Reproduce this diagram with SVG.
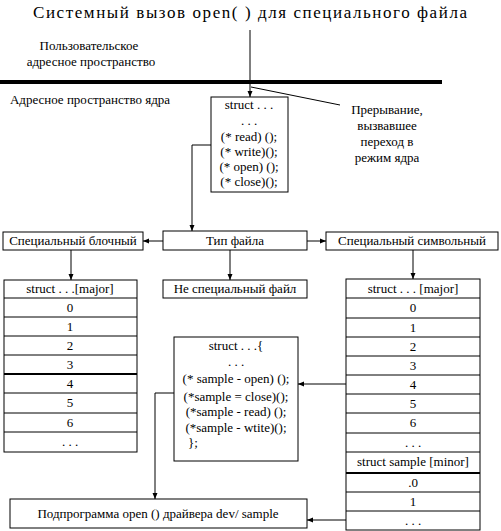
<svg xmlns="http://www.w3.org/2000/svg" width="501" height="531" viewBox="0 0 501 531">
<defs>
<marker id="ah" markerWidth="8" markerHeight="8" refX="7" refY="4" orient="auto" markerUnits="userSpaceOnUse">
<path d="M1,1.5 L7,4 L1,6.5 z" fill="#000"/>
</marker>
<style>
text{font-family:"Liberation Serif","DejaVu Serif","Times New Roman",serif;font-size:13px;fill:#000;text-anchor:middle}
.t{font-size:17px}
.box{fill:#fff;stroke:#000;stroke-width:1}
.ln{fill:none;stroke:#000;stroke-width:1}
.ar{fill:none;stroke:#000;stroke-width:1;marker-end:url(#ah)}
.thick{stroke:#000;stroke-width:2}
</style>
</defs>
<rect width="501" height="531" fill="#fff"/>

<g id="title"><text class="t" x="250" y="18" textLength="434" lengthAdjust="spacing">Системный вызов open( ) для специального файла</text></g>
<g id="user-space"><text x="89" y="50">Пользовательское</text><text x="91" y="66">адресное пространство</text></g>
<rect id="boundary" x="0" y="80" width="442" height="4" fill="#000"/>
<g id="kernel-space"><text x="90" y="104">Адресное пространство ядра</text></g>
<g id="interrupt"><text x="387" y="114">Прерывание,</text><text x="387" y="130">вызвавшее</text><text x="387" y="146">переход в</text><text x="387" y="162">режим ядра</text></g>

<g id="connectors">
<line class="ar" x1="250" y1="30" x2="250" y2="97"/>
<line class="ln" x1="251" y1="87" x2="340" y2="105"/>
<polyline class="ar" points="211,145 192,145 192,231"/>
<line class="ar" x1="163" y1="241" x2="143" y2="241"/>
<line class="ar" x1="307" y1="241" x2="326" y2="241"/>
<line class="ar" x1="71" y1="250" x2="71" y2="280"/>
<line class="ar" x1="230" y1="250" x2="230" y2="280"/>
<line class="ar" x1="413" y1="250" x2="413" y2="279"/>
<line class="ar" x1="346" y1="384" x2="298" y2="384"/>
<polyline class="ar" points="174,393 155,393 155,499"/>
<line class="ar" x1="346" y1="520" x2="307" y2="520"/>
</g>

<g id="struct-ops">
<rect class="box" x="211" y="97" width="77" height="95"/>
<text x="249" y="109">struct . . .</text>
<text x="249" y="125">. . .</text>
<text x="249" y="141">(* read) ();</text>
<text x="249" y="156">(* write)();</text>
<text x="249" y="171">(* open) ();</text>
<text x="249" y="186">(* close)();</text>
</g>

<g id="block-special"><rect class="box" x="3" y="232" width="140" height="18"/><text x="73" y="245">Специальный блочный</text></g>
<g id="file-type"><rect class="box" x="163" y="231" width="144" height="19"/><text x="235" y="245">Тип файла</text></g>
<g id="char-special"><rect class="box" x="326" y="232" width="172" height="18"/><text x="412" y="245">Специальный символьный</text></g>
<g id="not-special"><rect class="box" x="163" y="280" width="144" height="18"/><text x="235" y="293">Не специальный файл</text></g>

<g id="block-table">
<rect class="box" x="4" y="280" width="133" height="172"/>
<path class="ln" d="M4,298H137M4,317H137M4,336H137M4,355H137M4,393H137M4,413H137M4,432H137"/>
<line class="thick" x1="4" y1="374" x2="137" y2="374"/>
<text x="70" y="293">struct . . .[major]</text>
<text x="70" y="312">0</text>
<text x="70" y="331">1</text>
<text x="70" y="350">2</text>
<text x="70" y="369">3</text>
<text x="70" y="388">4</text>
<text x="70" y="407">5</text>
<text x="70" y="427">6</text>
<text x="70" y="446">. . .</text>
</g>

<g id="char-table">
<rect class="box" x="346" y="279" width="134" height="251"/>
<path class="ln" d="M346,298H480M346,318H480M346,337H480M346,356H480M346,375H480M346,394H480M346,413H480M346,433H480M346,452H480M346,492H480M346,511H480"/>
<line class="thick" x1="346" y1="473" x2="480" y2="473"/>
<text x="413" y="293">struct . . . [major]</text>
<text x="413" y="312">0</text>
<text x="413" y="332">1</text>
<text x="413" y="351">2</text>
<text x="413" y="370">3</text>
<text x="413" y="389">4</text>
<text x="413" y="408">5</text>
<text x="413" y="427">6</text>
<text x="413" y="447">. . .</text>
<text x="413" y="466">struct sample [minor]</text>
<text x="413" y="487">.0</text>
<text x="413" y="506">1</text>
<text x="413" y="525">. . .</text>
</g>

<g id="sample-struct">
<rect class="box" x="174" y="337" width="124" height="124"/>
<text x="236" y="350">struct . . .{</text>
<text x="236" y="366">. . .</text>
<text x="236" y="383">(* sample - open) ();</text>
<text x="236" y="401">(*sample = close)();</text>
<text x="236" y="416">(*sample - read) ();</text>
<text x="236" y="432">(*sample - wtite)();</text>
<text x="193" y="447">};</text>
</g>

<g id="driver-open"><rect class="box" x="10" y="499" width="297" height="29"/><text x="158" y="518">Подпрограмма open () драйвера dev/ sample</text></g>
</svg>
